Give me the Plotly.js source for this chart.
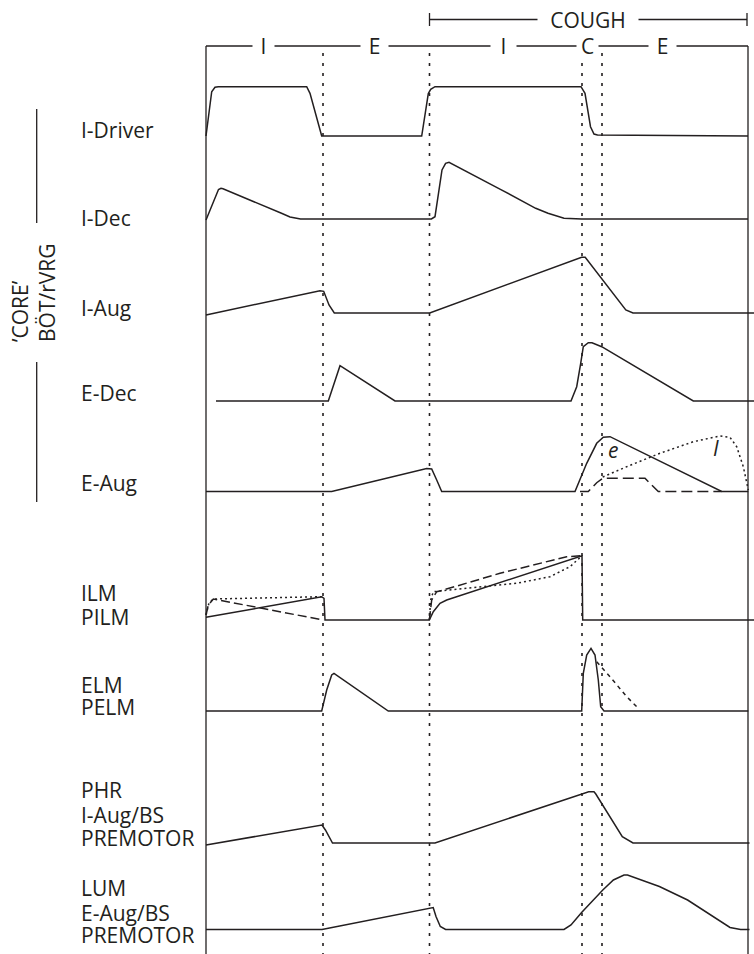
<!DOCTYPE html>
<html>
<head>
<meta charset="utf-8">
<script src="https://cdn.plot.ly/plotly-3.0.1.min.js"></script>
<style>html,body{margin:0;padding:0;background:#fff}#chart{width:754px;height:954px}</style>
</head>
<body>
<div id="chart"></div>
<script>
// ---------------- DATA (time in arbitrary units, activity in arbitrary units above each row's baseline) ----------------
const phaseNames = ['I', 'E', 'I', 'C', 'E'];
const phaseBounds = [0, 117, 223.5, 376, 396, 542];
const coughLabel = 'COUGH';
const coughSpan = [223.5, 541];

const iDriverT = [0, 5.7, 9, 12.3, 100.7, 104, 115.7, 215.7, 222.3, 224.7, 229, 375, 379, 384.5, 388, 391.5, 542];
const iDriverA = [0, 44.3, 48.7, 49.3, 49.3, 42.7, 0, 0, 42.4, 46.7, 49.3, 49.3, 42.7, 9.3, 2, 1, 0];

const iDecT = [0, 12.5, 15, 17, 75.5, 84, 94.5, 225.4, 229, 236, 239.6, 243, 294.4, 312, 329.7, 342, 358, 375.6, 542];
const iDecA = [-1, 29.5, 30.7, 30.3, 5.7, 2, 0, 0, 2.3, 49, 55.7, 56.7, 29.7, 20, 10.7, 5.7, 0.7, 0, 0];

const iAugT = [0, 114, 117.7, 123, 128.3, 223.7, 375.6, 379.2, 419.8, 427, 548];
const iAugA = [-2, 22.3, 21.7, 8, 0, 0, 55.7, 55.7, 3, 0, 0];

const eDecT = [10, 122.3, 134, 189, 365, 370.7, 374.7, 377.3, 382.3, 386, 395.7, 484, 487.3, 548];
const eDecA = [0, 0, 35.3, 0, 0, 14.3, 37.7, 54.3, 58.3, 58.3, 54.3, 1.7, 0, 0];

const eAugT = [0, 125.7, 220.7, 225.7, 230.7, 235.7, 369, 380.7, 390.7, 397.3, 404, 515.7, 542.3];
const eAugA = [0, 0, 23, 22.5, 11.5, 0, 0, 28.2, 48.2, 54.2, 54.8, 0, 0];
const eAugDashT = [374, 382.3, 390.7, 396.7, 439, 444, 452.3, 515.7];
const eAugDashA = [0, 0, 8.8, 13.2, 13.2, 8.2, 0, 0];
const eAugDotT = [396.7, 420.7, 454, 487.3, 514, 524, 530.7, 537.3, 542.3];
const eAugDotA = [14.5, 24.8, 38.2, 49.8, 55.5, 54.2, 44.8, 24.8, 1.5];

const ilmT = [0, 115.7, 118, 119, 223.3, 227.3, 234, 240.7, 376, 376.7, 548];
const ilmA = [2.7, 23.3, 21.7, 0, 0, 8.3, 16.7, 20, 64.3, 0, 0];
const ilmDashT = [0, 2.3, 7.3, 117.3, null, 223.3, 225.7, 230.7, 237.3, 294, 360.7, 376];
const ilmDashA = [5, 15, 21, 0, null, 0, 20, 28.3, 30, 46.7, 63.3, 64.3];
const ilmDotT = [0, 3, 7.3, 115.7, null, 223.3, 224.7, 227.3, 244, 277.3, 310.7, 344, 364, 376];
const ilmDotA = [5, 17, 21, 23.3, null, 0, 20, 28.3, 30, 33.3, 36.7, 43.3, 53.3, 64.3];

const elmT = [0, 115.7, 120.7, 125.7, 128, 182.3, 375.7, 377.3, 380.7, 385, 389, 392.3, 394.7, 398, 542.3];
const elmA = [0, 0, 21, 36, 37.7, 0, 0, 37.7, 56, 62.7, 56, 31, 4.3, 0, 0];
const elmDashT = [390.7, 404, 420.7, 432.3];
const elmDashA = [49.3, 34.3, 14.3, 2.7];

const phrT = [0, 112.4, 116, 119.4, 126.5, 229, 382.7, 388, 389.8, 416.3, 427, 543.5];
const phrA = [-2, 18, 18, 13, 0, 0, 51.3, 51.3, 49, 6.3, 0, 0];

const lumT = [0, 116, 227.2, 230, 234.3, 239.6, 358, 365, 375.6, 396.8, 407.4, 418, 421.5, 453.4, 481.6, 509.9, 524, 534.6, 543.5];
const lumA = [0, 0, 22, 13, 3, 0, 0, 4.5, 17, 39.5, 49.5, 54.5, 54.5, 43, 29.5, 11, 2, 0, 0];

const rowLabels = [['I-Driver'], ['I-Dec'], ['I-Aug'], ['E-Dec'], ['E-Aug'],
  ['ILM', 'PILM'], ['ELM', 'PELM'], ['PHR', 'I-Aug/BS', 'PREMOTOR'], ['LUM', 'E-Aug/BS', 'PREMOTOR']];
const groupLabel = ['\u2019CORE\u2019', 'B\u00d6T/rVRG'];
const eAugCurveLabels = ['e', 'I'];

// ---------------- LAYOUT / STYLE (positions in plot units: x = time, y = page rows, top-down) ----------------
const INK = '#231f20';
const FONT = 'Open Sans, Noto Sans, sans-serif';
const FS = 21;
const rowBase = {iDriver: 136, iDec: 219, iAug: 313, eDec: 401, eAug: 491.5, ilm: 620, elm: 711, phr: 843, lum: 929.5};
const rowLabelY = [130, 218, 308, 393, 483, 593, 616.5, 685, 707, 790, 814.5, 838, 888, 912.5, 935];
const phaseLabelT = [57, 168, 297, 381, 456];
const phaseGapW = [21, 27, 25, 21, 27];
const coughGapW = 100;
const barY = 46, coughY = 19.5, labelX = -126, bracketX = -169.3;

function curve(t, a, base, dash) {
  return {
    x: t, y: a.map(v => v === null ? null : base - v),
    type: 'scatter', mode: 'lines', hoverinfo: 'skip', connectgaps: false,
    line: {color: INK, width: 1.5, dash: dash || 'solid', shape: 'linear'}
  };
}

const traces = [
  curve(iDriverT, iDriverA, rowBase.iDriver),
  curve(iDecT, iDecA, rowBase.iDec),
  curve(iAugT, iAugA, rowBase.iAug),
  curve(eDecT, eDecA, rowBase.eDec),
  curve(eAugDashT, eAugDashA, rowBase.eAug, '11px,5px'),
  curve(eAugDotT, eAugDotA, rowBase.eAug, '2px,3px'),
  curve(eAugT, eAugA, rowBase.eAug),
  curve(ilmDashT, ilmDashA, rowBase.ilm, '9px,4px'),
  curve(ilmDotT, ilmDotA, rowBase.ilm, '2px,3px'),
  curve(ilmT, ilmA, rowBase.ilm),
  curve(elmDashT, elmDashA, rowBase.elm, '4px,4px'),
  curve(elmT, elmA, rowBase.elm),
  curve(phrT, phrA, rowBase.phr),
  curve(lumT, lumA, rowBase.lum)
];

const L = {color: INK, width: 1.3};
const shapes = [];
const tEnd = phaseBounds[phaseBounds.length - 1];
// frame
shapes.push({type: 'line', x0: phaseBounds[0], x1: phaseBounds[0], y0: barY, y1: 960, line: L});
shapes.push({type: 'line', x0: tEnd, x1: tEnd, y0: barY, y1: 960, line: L});
shapes.push({type: 'line', x0: phaseBounds[0], x1: tEnd, y0: barY, y1: barY, line: L});
// phase boundaries
phaseBounds.slice(1, -1).forEach(b => shapes.push({type: 'line', x0: b, x1: b, y0: barY + 7, y1: 960,
  line: {color: INK, width: 1.6, dash: '3px,7px'}}));
// cough bar
shapes.push({type: 'line', x0: coughSpan[0], x1: coughSpan[1], y0: coughY, y1: coughY, line: L});
coughSpan.forEach(c => shapes.push({type: 'line', x0: c, x1: c, y0: coughY - 6.5, y1: coughY + 6.5, line: L}));
// group bracket
shapes.push({type: 'line', x0: bracketX, x1: bracketX, y0: 109, y1: 223, line: L});
shapes.push({type: 'line', x0: bracketX, x1: bracketX, y0: 362, y1: 502, line: L});

const annotations = [];
const txt = (text, x, y, extra) => Object.assign({text: text, x: x, y: y, xref: 'x', yref: 'y', showarrow: false,
  font: {family: FONT, size: FS, color: INK}}, extra || {});
annotations.push(txt(coughLabel, (coughSpan[0] + coughSpan[1]) / 2, coughY,
  {bgcolor: '#fff', borderpad: 0, width: coughGapW, height: 20}));
phaseNames.forEach((p, i) => annotations.push(txt(p, phaseLabelT[i], barY,
  {bgcolor: '#fff', borderpad: 0, width: phaseGapW[i], height: 20})));
rowLabels.flat().forEach((s, i) => {
  annotations.push(txt(s, labelX, rowLabelY[i] + 2.5,
    {xanchor: 'left', height: 23, valign: 'bottom', borderpad: 0}));
});
annotations.push(txt(groupLabel.join('<br>'), -173, 293, {textangle: -90, align: 'left'}));
annotations.push(txt(eAugCurveLabels[0], 407, 450, {font: {family: FONT, size: 21, color: INK, style: 'italic'}}));
annotations.push(txt(eAugCurveLabels[1], 510, 448, {font: {family: FONT, size: 21, color: INK, style: 'italic'}}));

const layout = {
  width: 754, height: 954,
  margin: {l: 0, r: 0, t: 0, b: 0, pad: 0},
  paper_bgcolor: '#fff', plot_bgcolor: '#fff',
  showlegend: false,
  xaxis: {range: [-206, 548], visible: false, fixedrange: true},
  yaxis: {range: [954, 0], visible: false, fixedrange: true},
  shapes: shapes,
  annotations: annotations
};

Plotly.newPlot('chart', traces, layout, {staticPlot: true, displayModeBar: false});
</script>
</body>
</html>
